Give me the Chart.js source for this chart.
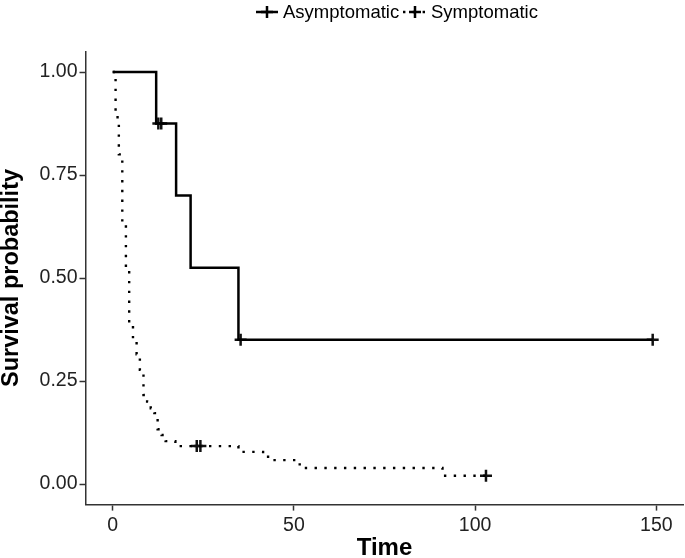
<!DOCTYPE html>
<html>
<head>
<meta charset="utf-8">
<title>Survival curves</title>
<script src="https://cdn.jsdelivr.net/npm/chart.js@4.4.1/dist/chart.umd.min.js"></script>
<style>
  html, body { margin: 0; padding: 0; background: #fff; }
</style>
</head>
<body>
<canvas id="chart" width="685" height="558"></canvas>
<script>
// Kaplan-Meier steps: time and survival right after it
var seriesNames = ['Asymptomatic', 'Symptomatic'];

var asymTime = [0, 12, 17.5, 21.5, 34.7, 149];
var asymSurv = [1, 0.875, 0.7, 0.525, 0.35, 0.35];
var asymCensorTime = [12.6, 13.4, 35.3, 149];
var asymCensorSurv = [0.875, 0.875, 0.35, 0.35];

var sympTime = [0, 0.8, 1.7, 2.65, 3.65, 4.55, 5.6, 6.6, 7.5, 8.5, 9.5, 10.5, 11.5, 12.4, 13.5, 14.6, 17.3, 34.7, 41.5, 43.4, 50.5, 51.6, 91, 103];
var sympSurv = [1, 0.89, 0.80, 0.63, 0.52, 0.39, 0.35, 0.315, 0.277, 0.216, 0.2, 0.184, 0.172, 0.133, 0.119, 0.104, 0.092, 0.078, 0.066, 0.058, 0.051, 0.039, 0.02, 0.02];
var sympCensorTime = [23.2, 24.2, 103];
var sympCensorSurv = [0.092, 0.092, 0.02];

var xTicks = [0, 50, 100, 150];
var yTicks = [0, 0.25, 0.5, 0.75, 1];

function pairs(xs, ys) {
  return xs.map(function (x, i) { return { x: x, y: ys[i] }; });
}

var FONT = "'Liberation Sans', Arial, Helvetica, sans-serif";
var DOTS = [2.4, 7.4];

// legend drawn by hand so it sits over the plot like the original
var legendPlugin = {
  id: 'kmLegend',
  afterDraw: function (chart) {
    var ctx = chart.ctx;
    var y = 12;
    function cross(cx) {
      ctx.setLineDash([]);
      ctx.lineWidth = 2.5;
      ctx.beginPath();
      ctx.moveTo(cx - 6, y); ctx.lineTo(cx + 6, y);
      ctx.moveTo(cx, y - 6); ctx.lineTo(cx, y + 6);
      ctx.stroke();
    }
    ctx.save();
    ctx.strokeStyle = '#000';
    ctx.fillStyle = '#000';
    ctx.font = '18.5px ' + FONT;
    ctx.textBaseline = 'middle';

    ctx.lineWidth = 2.5;
    ctx.beginPath(); ctx.moveTo(256, y); ctx.lineTo(278, y); ctx.stroke();
    cross(267);
    ctx.fillText(seriesNames[0], 283, y + 1);

    ctx.lineWidth = 2.4;
    ctx.setLineDash(DOTS);
    ctx.beginPath(); ctx.moveTo(403, y); ctx.lineTo(427, y); ctx.stroke();
    cross(415);
    ctx.fillText(seriesNames[1], 431, y + 1);
    ctx.restore();
  }
};

var ctx = document.getElementById('chart').getContext('2d');
new Chart(ctx, {
  type: 'line',
  data: {
    datasets: [
      {
        label: seriesNames[0],
        data: pairs(asymTime, asymSurv),
        stepped: 'before',
        borderColor: '#000',
        borderWidth: 2.5,
        pointRadius: 0,
        fill: false
      },
      {
        label: seriesNames[1],
        data: pairs(sympTime, sympSurv),
        stepped: 'before',
        borderColor: '#000',
        borderWidth: 2.4,
        borderDash: DOTS,
        pointRadius: 0,
        fill: false
      },
      {
        label: seriesNames[0] + ' censored',
        data: pairs(asymCensorTime, asymCensorSurv),
        showLine: false,
        pointStyle: 'cross',
        pointRadius: 6,
        pointBorderWidth: 2.5,
        borderColor: '#111'
      },
      {
        label: seriesNames[1] + ' censored',
        data: pairs(sympCensorTime, sympCensorSurv),
        showLine: false,
        pointStyle: 'cross',
        pointRadius: 6,
        pointBorderWidth: 2.5,
        borderColor: '#111'
      }
    ]
  },
  options: {
    responsive: false,
    animation: false,
    layout: { autoPadding: false, padding: { top: 51.4, right: 1.5, left: 0, bottom: 0 } },
    plugins: {
      legend: { display: false },
      tooltip: { enabled: false }
    },
    scales: {
      x: {
        type: 'linear',
        min: -7.5,
        max: 157.5,
        afterBuildTicks: function (scale) {
          scale.ticks = xTicks.map(function (v) { return { value: v }; });
        },
        afterFit: function (scale) {
          scale.height = 53.4;
          scale.paddingLeft = 0;
          scale.paddingRight = 0;
        },
        border: { display: true, color: '#333', width: 1.5 },
        grid: { drawOnChartArea: false, drawTicks: true, tickLength: 6, tickColor: '#333', tickWidth: 1.5 },
        ticks: { color: '#222', font: { family: FONT, size: 19.5 }, padding: 3, maxRotation: 0 },
        title: { display: true, text: 'Time', color: '#000', font: { family: FONT, size: 24, weight: 'bold' }, padding: { top: 0, bottom: -5 } }
      },
      y: {
        min: -0.05,
        max: 1.05,
        afterBuildTicks: function (scale) {
          scale.ticks = yTicks.map(function (v) { return { value: v }; });
        },
        afterFit: function (scale) { scale.width = 85.5; },
        border: { display: true, color: '#333', width: 1.5 },
        grid: { drawOnChartArea: false, drawTicks: true, tickLength: 6, tickColor: '#333', tickWidth: 1.5 },
        ticks: {
          color: '#222',
          font: { family: FONT, size: 19.5 },
          padding: 2,
          callback: function (v) { return v.toFixed(2); }
        },
        title: { display: true, text: 'Survival probability', color: '#000', font: { family: FONT, size: 23.5, weight: 'bold' }, padding: { top: -3, bottom: 0 } }
      }
    }
  },
  plugins: [legendPlugin]
});
</script>
</body>
</html>
